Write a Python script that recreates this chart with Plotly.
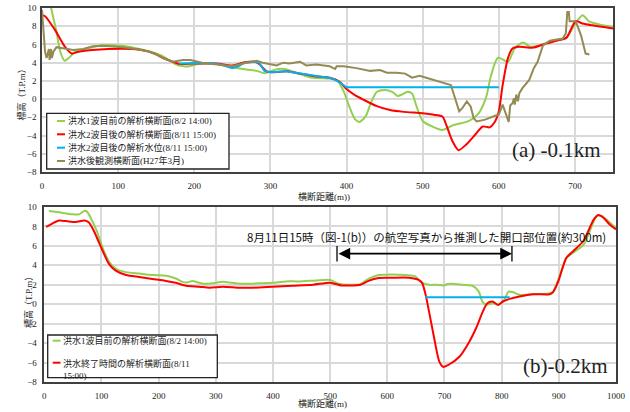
import plotly.graph_objects as go

W, H = 630, 412

# ---------------- (a) -0.1km cross section ----------------
a_green_x = [5, 12, 19, 24, 30, 35, 44, 57, 79, 104, 131, 150, 163, 175, 186, 193, 205, 220, 235, 250,
             264, 282, 292, 302, 310, 318, 334, 352, 365, 378, 388, 396, 404, 411, 417, 425, 433, 440,
             450, 460, 467, 473, 480, 486, 492, 500, 510, 526, 539, 561, 574, 583, 590, 599, 612, 621,
             632, 641, 658, 671, 688, 699, 710, 719, 732, 750]
a_green_y = [13.0, 10.0, 7.4, 5.2, 4.2, 4.5, 5.2, 5.5, 5.9, 5.85, 5.45, 5.0, 4.5, 3.85, 3.6, 3.6, 3.85,
             3.95, 3.75, 3.5, 3.3, 3.1, 2.85, 3.1, 3.3, 3.3, 2.9, 2.4, 2.3, 2.25, 2.0, 0.9, -0.9, -2.2,
             -2.5, -1.9, -0.2, 0.8, 1.0, 0.8, 0.35, 0.5, 0.8, 0.6, -0.8, -2.4, -2.9, -3.4, -2.9, -2.4,
             -1.5, 0.1, 2.65, 4.55, 4.1, 5.6, 6.2, 5.75, 6.0, 6.4, 6.65, 8.1, 9.2, 8.5, 8.2, 7.9]

a_red_x = [0, 4, 17, 30, 39, 48, 87, 131, 148, 159, 172, 181, 200, 230, 250, 266, 280, 286, 295, 305,
           321, 335, 352, 365, 378, 391, 400, 410, 422, 439, 457, 475, 500, 513, 526, 530, 539, 547,
           557, 570, 579, 588, 594, 600, 605, 612, 618, 627, 645, 662, 680, 689, 701, 710, 723, 750]
a_red_y = [9.2, 9.1, 7.6, 5.75, 5.0, 5.2, 5.5, 5.4, 5.0, 4.5, 4.1, 3.85, 3.9, 3.9, 3.7, 4.05, 4.1, 3.8,
           3.05, 2.95, 3.05, 2.85, 2.6, 2.45, 2.35, 1.9, 1.1, 0.5, -0.05, -0.75, -1.2, -1.4, -1.55,
           -1.7, -1.9, -2.6, -4.6, -5.6, -5.0, -3.8, -3.0, -3.1, -2.6, -1.35, 1.5, 4.5, 5.55, 5.75,
           5.65, 6.1, 6.5, 6.75, 8.55, 8.3, 8.1, 7.75]

a_water_x = [180, 200, 220, 235, 250, 258, 266, 280, 285, 292, 300, 320, 335, 352, 365, 380, 390, 400, 600]
a_water_y = [3.9, 3.9, 3.95, 3.8, 3.4, 3.6, 4.0, 4.1, 4.0, 3.1, 2.95, 3.05, 2.85, 2.6, 2.45, 2.3, 1.9, 1.3, 1.3]

a_survey_x = [0, 2, 4, 6, 9, 10, 12, 13, 15, 19, 28, 41, 54, 67, 80, 93, 106, 123, 141, 150, 159, 172,
              185, 195, 210, 230, 250, 264, 282, 290, 308, 317, 325, 339, 347, 360, 371, 378, 385, 387,
              396, 413, 431, 444, 453, 466, 477, 486, 496, 518, 537, 541, 548, 552, 558, 563, 567, 571,
              582, 596, 600, 605, 609, 613, 615, 618, 620, 621, 623, 625, 627, 631, 640, 646, 651, 658,
              667, 684, 688, 690, 692, 693, 701, 708, 714, 719]
a_survey_y = [9.8, 7.6, 5.2, 4.5, 5.5, 4.3, 5.5, 4.5, 5.2, 5.7, 5.6, 5.4, 5.5, 5.8, 5.85, 5.8, 5.7, 5.5,
              5.2, 4.9, 4.5, 4.1, 4.3, 4.3, 4.0, 3.8, 3.6, 3.9, 4.2, 4.0, 3.7, 4.0, 3.9, 4.1, 3.7, 3.8,
              3.7, 3.6, 3.3, 3.6, 3.6, 3.4, 3.1, 3.2, 2.9, 2.9, 2.8, 2.35, 2.55, 2.0, 1.55, 0.5, -1.35,
              -1.0, -0.25, -0.8, -2.1, -2.45, -2.25, -1.8, -1.7, -0.6, -1.5, -2.5, -0.7, -0.45, 0.1,
              -0.6, 0.5, -0.25, 0.65, 1.2, 2.1, 3.4, 4.1, 5.9, 6.4, 6.65, 7.2, 9.55, 9.55, 8.55, 8.55,
              7.0, 5.0, 4.9]

# ---------------- (b) -0.2km cross section ----------------
b_green_x = [8, 26, 49, 61, 70, 75, 84, 93, 102, 113, 125, 143, 166, 189, 213, 230, 242, 251, 259, 268,
             280, 294, 312, 329, 353, 376, 399, 423, 446, 475, 500, 515, 532, 553, 567, 585, 608, 632,
             649, 658, 673, 685, 699, 705, 714, 732, 749, 760, 766, 773, 784, 796, 805, 812, 819, 831,
             855, 884, 890, 902, 913, 925, 943, 954, 966, 975, 989, 1000]
b_green_y = [9.6, 9.45, 9.25, 9.25, 9.6, 9.5, 8.55, 7.35, 5.8, 4.4, 3.65, 3.3, 3.15, 3.0, 2.93, 2.65,
             2.3, 2.25, 2.4, 2.25, 2.1, 2.15, 2.3, 2.2, 2.1, 2.15, 2.2, 2.35, 2.35, 2.45, 2.5, 2.1, 2.0,
             2.07, 2.6, 3.0, 3.07, 3.0, 2.86, 2.3, 2.0, 2.0, 1.93, 2.07, 2.1, 2.0, 1.9, 1.3, 0.3, -0.05,
             0.1, 0.0, 0.5, 1.3, 1.25, 0.97, 1.03, 1.14, 1.3, 3.0, 4.75, 5.3, 6.1, 7.5, 9.07, 9.07, 8.4,
             7.8]

b_red_x = [3, 14, 26, 38, 55, 70, 78, 87, 96, 105, 113, 125, 143, 166, 189, 213, 230, 248, 271, 289,
           312, 341, 364, 399, 434, 470, 500, 520, 538, 553, 567, 585, 608, 638, 655, 661, 667, 673,
           682, 691, 698, 708, 726, 743, 755, 767, 775, 784, 794, 802, 814, 831, 855, 884, 890, 899,
           913, 925, 943, 949, 961, 969, 978, 989, 1000]
b_red_y = [7.95, 8.3, 8.6, 8.55, 8.45, 8.6, 8.4, 7.5, 6.3, 5.1, 4.15, 3.45, 3.0, 2.8, 2.6, 2.4, 2.2, 1.9,
           1.8, 1.7, 1.8, 1.7, 1.7, 1.8, 1.9, 2.0, 2.22, 1.93, 1.93, 2.0, 2.4, 2.7, 2.72, 2.72, 2.5,
           2.17, 0.97, -0.76, -3.5, -5.9, -6.45, -6.2, -5.4, -3.9, -2.5, -0.76, 0.1, 0.28, -0.07, 0.28,
           0.55, 0.8, 1.03, 1.03, 1.24, 2.34, 4.75, 5.45, 6.5, 7.2, 8.7, 9.17, 8.9, 8.2, 7.7]

b_water_x = [666, 814]
b_water_y = [0.72, 0.72]

# breach width (approx. 300 m)
b_breach = [512, 818]
b_breach_level = 5.2

GREEN, RED, BLUE, BROWN = "#92D050", "#FF0000", "#00B0F0", "#948A54"

legend_a = ["洪水1波目前の解析横断面(8/2 14:00)", "洪水2波目後の解析横断面(8/11 15:00)",
            "洪水2波目後の解析水位(8/11 15:00)", "洪水後観測横断面(H27年3月)"]
legend_b = ["洪水1波目前の解析横断面(8/2 14:00)", "洪水終了時間の解析横断面(8/11<br>15:00)"]

SERIF = "Liberation Serif, Noto Sans CJK JP, serif"
SANS = "Noto Sans CJK JP, sans-serif"


def px(x):
    return x / W


def py(y):
    return 1 - y / H


fig = go.Figure()


def line(x, y, color, xa, ya, shape="spline"):
    fig.add_trace(go.Scatter(x=x, y=y, mode="lines", xaxis=xa, yaxis=ya,
                             line=dict(color=color, width=2, shape=shape, smoothing=0.7),
                             hoverinfo="skip", showlegend=False))


line(a_green_x, a_green_y, GREEN, "x", "y")
line(a_red_x, a_red_y, RED, "x", "y")
line(a_water_x, a_water_y, BLUE, "x", "y", shape="linear")
line(a_survey_x, a_survey_y, BROWN, "x", "y", shape="linear")

line(b_green_x, b_green_y, GREEN, "x2", "y2")
line(b_red_x, b_red_y, RED, "x2", "y2")
line(b_water_x, b_water_y, BLUE, "x2", "y2", shape="linear")

axis_common = dict(
    showgrid=True, gridcolor="#d9d9d9", gridwidth=1.5, automargin=False,
    zeroline=False, showline=True, linecolor="#404040", linewidth=1.5, mirror=True,
    ticks="", tickfont=dict(family=SERIF, size=9, color="#222"),
)

fig.update_layout(
    width=W, height=H,
    margin=dict(l=0, r=0, t=0, b=0, autoexpand=False),
    paper_bgcolor="white", plot_bgcolor="white",
    showlegend=False,
    xaxis=dict(domain=[px(42), px(613)], range=[0, 750], dtick=100, anchor="y",
               ticklabelstandoff=4, **axis_common),
    yaxis=dict(domain=[py(172), py(8)], range=[-8, 10], dtick=2, anchor="x",
               ticklabelstandoff=2, **axis_common),
    xaxis2=dict(domain=[px(44.3), px(616)], range=[0, 1000], dtick=100, anchor="y2",
                ticklabelstandoff=4, **axis_common),
    yaxis2=dict(domain=[py(382), py(207)], range=[-8, 10], dtick=2, anchor="x2",
                ticklabelstandoff=4, **axis_common),
)

ann = []
shapes = []


def label(x, y, text, size=9, family=SERIF, angle=0):
    ann.append(dict(x=px(x), y=py(y), xref="paper", yref="paper", text=text,
                    xanchor="center", yanchor="middle", textangle=angle, showarrow=False,
                    font=dict(family=family, size=size, color="#222")))


# axis titles
label(324, 196, "横断距離(m))")
label(322, 403, "横断距離(m)")
label(20.5, 93, "標高（T.P.m）", angle=-90)
label(28, 300, "標高（T.P.m）", angle=-90)

# section labels
label(556, 150, "(a) -0.1km", size=21)
label(565, 366, "(b)-0.2km", size=21)

# breach width marker
ann.append(dict(x=b_breach[1], y=b_breach_level, ax=b_breach[0], ay=b_breach_level,
                xref="x2", yref="y2", axref="x2", ayref="y2", text="", showarrow=True,
                arrowhead=2, startarrowhead=2, arrowside="end+start", arrowsize=1.3,
                startarrowsize=1.3, arrowwidth=1.8, arrowcolor="#000"))
for bx in b_breach:
    shapes.append(dict(type="line", xref="x2", yref="y2", x0=bx, x1=bx,
                       y0=b_breach_level - 0.8, y1=b_breach_level + 0.8,
                       line=dict(color="#000", width=1.3)))
ann.append(dict(x=sum(b_breach) / 2 + 3, y=6.9, xref="x2", yref="y2",
                xanchor="center", yanchor="middle",
                text="8月11日15時（図-1(b)）の航空写真から推測した開口部位置(約300m)",
                showarrow=False, font=dict(family=SANS, size=11.5, color="#111")))


# legend boxes
def legend_box(x0, x1, y0, y1, entries, colors, ys, line_x):
    shapes.append(dict(type="rect", xref="paper", yref="paper", x0=px(x0), x1=px(x1),
                       y0=py(y1), y1=py(y0), line=dict(color="#222", width=1.3),
                       fillcolor="white", layer="above"))
    for text, col, yy in zip(entries, colors, ys):
        shapes.append(dict(type="line", xref="paper", yref="paper", x0=px(line_x[0]),
                           x1=px(line_x[1]), y0=py(yy), y1=py(yy),
                           line=dict(color=col, width=2), layer="above"))
        wrapped = "<br>" in text
        ann.append(dict(x=px(line_x[1] + 0.5), y=py(yy), xref="paper", yref="paper",
                        xanchor="left", yanchor="top" if wrapped else "middle",
                        yshift=7 if wrapped else 0,
                        align="left", text=text, showarrow=False,
                        font=dict(family=SERIF, size=9, color="#222")))


legend_box(46.7, 229, 113.3, 169, legend_a, [GREEN, RED, BLUE, BROWN],
           [121, 134.3, 147.7, 161], (57, 65))
legend_box(47.7, 217.3, 335, 377.7, legend_b, [GREEN, RED],
           [340.7, 362.7], (52.7, 60.5))

fig.update_layout(annotations=ann, shapes=shapes)
fig.write_html("out.html")
